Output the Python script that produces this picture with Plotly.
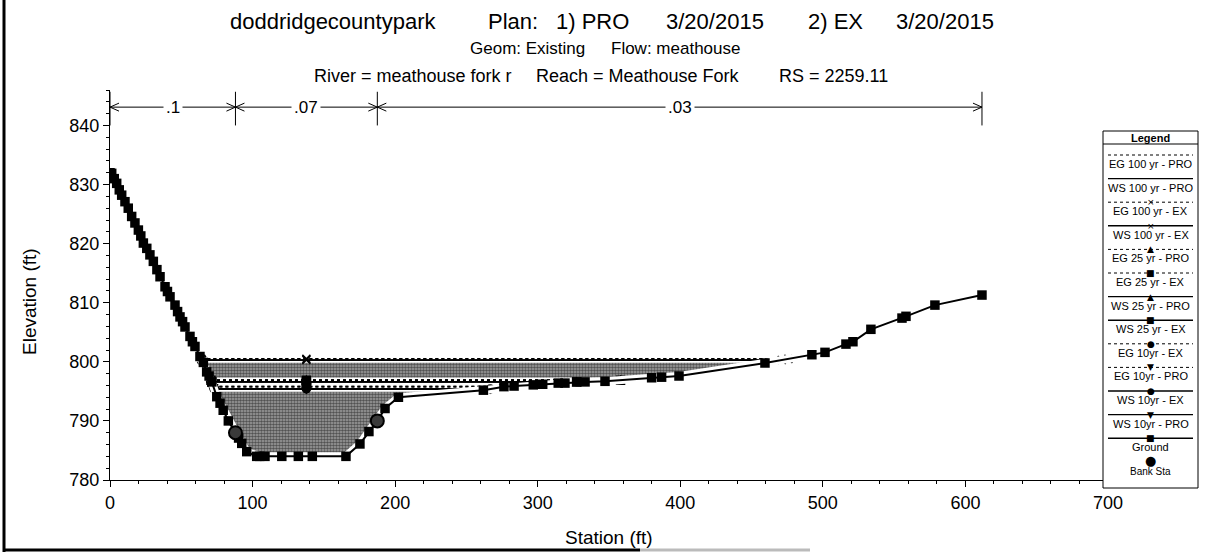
import numpy as np
import plotly.graph_objects as go

# ---- cross-section data -------------------------------------------------
ground_sta = [0.0, 1.2, 3.0, 4.7, 6.5, 8.2, 10.5, 12.8, 15.2, 17.5, 19.9, 21.6,
              23.4, 25.8, 28.0, 30.4, 32.9, 35.1, 38.6, 40.3, 42.1, 45.6, 47.4,
              49.1, 50.9, 52.6, 56.1, 57.8, 59.6, 63.1, 65.5, 67.8, 69.5, 71.4,
              74.9, 77.2, 79.4, 83.0, 88.0, 90.2, 92.4, 95.9, 102.9, 105.0,
              108.7, 120.5, 132.1, 141.9, 165.5, 175.3, 181.6, 187.5, 192.9,
              202.3, 261.9, 276.3, 283.4, 296.9, 303.5, 314.4, 319.1, 327.3,
              333.2, 347.2, 379.9, 386.9, 399.1, 459.4, 492.3, 501.5, 516.2,
              521.1, 533.7, 555.5, 558.3, 578.6, 611.6]
ground_elev = [832.0, 831.9, 831.0, 830.2, 829.1, 828.2, 827.1, 826.0, 824.6,
               823.5, 822.3, 821.3, 820.1, 819.2, 818.1, 817.0, 815.6, 814.4,
               812.7, 811.9, 811.0, 809.6, 808.5, 807.6, 806.8, 805.9, 804.3,
               803.4, 802.6, 800.9, 799.9, 798.3, 797.6, 796.6, 794.1, 793.0,
               791.8, 790.0, 788.0, 787.1, 786.2, 784.8, 784.0, 784.0, 784.0,
               784.0, 784.0, 784.0, 784.0, 786.1, 788.2, 790.0, 792.1, 794.0,
               795.2, 795.8, 795.9, 796.1, 796.2, 796.4, 796.4, 796.6, 796.6,
               796.7, 797.3, 797.4, 797.6, 799.8, 801.2, 801.6, 803.0, 803.4,
               805.5, 807.4, 807.7, 809.6, 811.3]

bank_sta = [88.0, 187.5]
bank_elev = [788.0, 790.0]

n_values = [".1", ".07", ".03"]

profiles = ["EG 100 yr - PRO", "WS 100 yr - PRO", "EG 100 yr - EX", "WS 100 yr - EX",
            "EG 25 yr - PRO", "EG 25 yr - EX", "WS 25 yr - PRO", "WS 25 yr - EX",
            "EG 10yr - EX", "EG 10yr - PRO", "WS 10yr - EX", "WS 10yr - PRO"]
profile_elev = [800.5, 800.3, 800.5, 800.3,
                796.9, 796.9, 796.6, 796.6,
                795.8, 795.8, 795.4, 795.4]
profile_dash = ["dot", "solid", "dot", "solid",
                "dot", "dot", "solid", "solid",
                "dot", "dot", "solid", "solid"]
profile_symbol = [None, None, "x-thin", "x-thin",
                  "triangle-up", "square", "triangle-up", "square",
                  "circle", "triangle-down", "circle", "triangle-down"]

# title pieces: (text, x pixel, anchor)
title_parts = [("doddridgecountypark", 228, "left"), ("Plan:", 486, "left"),
               ("1) PRO", 554, "left"), ("3/20/2015", 664, "left"),
               ("2) EX", 806, "left"), ("3/20/2015", 996, "right")]
subtitle_2 = [("Geom: Existing", 468, "left"), ("Flow: meathouse", 742, "right")]
subtitle_3 = [("River = meathouse fork r", 312, "left"),
              ("Reach = Meathouse Fork", 534, "left"),
              ("RS = 2259.11", 890, "right")]

# ---- geometry helpers ---------------------------------------------------
W, H = 1214, 554
L, R, T, B = 110, 1108, 90, 480          # plot area in pixels
X_RANGE = [0, 700]
Y_RANGE = [780, 846]
FONT = "Liberation Sans, Arial, sans-serif"


def px(x):
    return (x - L) / (R - L)


def py(y):
    return (B - y) / (B - T)


def note(x, y, text, size, family=FONT, xanchor="center", **kw):
    d = dict(x=px(x), y=py(y), xref="paper", yref="paper", text=text,
             showarrow=False, xanchor=xanchor, yanchor="middle",
             font=dict(size=size, color="black", family=family))
    d.update(kw)
    return d


gs = np.array(ground_sta)
ge = np.array(ground_elev)


def wet_limits(wse):
    below = ge < wse
    i = int(np.argmax(below))
    xl = gs[i - 1] + (wse - ge[i - 1]) * (gs[i] - gs[i - 1]) / (ge[i] - ge[i - 1])
    j = len(ge) - 1 - int(np.argmax(below[::-1]))
    xr = gs[j] + (wse - ge[j]) * (gs[j + 1] - gs[j]) / (ge[j + 1] - ge[j])
    return xl, xr, i, j


fig = go.Figure()

# water area under the highest water surface
ws_top = profile_elev[1]
xl, xr, i0, j0 = wet_limits(ws_top)
poly_x = [xl] + list(gs[i0:j0 + 1]) + [xr, xl]
poly_y = [ws_top] + list(ge[i0:j0 + 1]) + [ws_top, ws_top]
fig.add_trace(go.Scatter(
    x=poly_x, y=poly_y, mode="lines", fill="toself",
    fillcolor="#777777", line=dict(width=0, color="rgba(0,0,0,0)"),
    fillpattern=dict(shape=".", fgcolor="#000000", bgcolor="#a4a4a4",
                     size=3, solidity=0.6),
    hoverinfo="skip", showlegend=False))

mid_sta = (bank_sta[0] + bank_sta[1]) / 2

# white halos under the water surface lines
for el in profile_elev:
    a, b, _, _ = wet_limits(el)
    fig.add_trace(go.Scatter(x=[a, b], y=[el, el], mode="lines",
                             line=dict(color="white", width=5),
                             hoverinfo="skip", showlegend=False))

# water surface and energy grade lines
for name, el, dash, sym in zip(profiles, profile_elev, profile_dash, profile_symbol):
    a, b, _, _ = wet_limits(el)
    if sym is None:
        fig.add_trace(go.Scatter(x=[a, b], y=[el, el], mode="lines", name=name,
                                 line=dict(color="black", width=1.8, dash=dash),
                                 showlegend=False))
    else:
        fig.add_trace(go.Scatter(
            x=[a, mid_sta, b], y=[el, el, el], mode="lines+markers", name=name,
            line=dict(color="black", width=1.8, dash=dash),
            marker=dict(symbol=sym, size=8, color="black",
                        line=dict(color="black", width=1.5)),
            showlegend=False))

# ground
fig.add_trace(go.Scatter(x=ground_sta, y=ground_elev, mode="lines",
                         line=dict(color="white", width=8),
                         hoverinfo="skip", showlegend=False))
fig.add_trace(go.Scatter(x=ground_sta, y=ground_elev, mode="lines+markers",
                         name="Ground",
                         line=dict(color="black", width=2),
                         marker=dict(symbol="square", size=9.5, color="black"),
                         showlegend=False))
# bank stations
fig.add_trace(go.Scatter(x=bank_sta, y=bank_elev, mode="markers", name="Bank Sta",
                         marker=dict(symbol="circle", size=13, color="#3a3a3a",
                                     line=dict(color="black", width=2)),
                         showlegend=False))

shapes = []
annotations = []

# Manning's n brackets along the top
breaks = [ground_sta[0], bank_sta[0], bank_sta[1], ground_sta[-1]]
y_line = 843.1
ft_per_px_x = (X_RANGE[1] - X_RANGE[0]) / (R - L)
ft_per_px_y = (Y_RANGE[1] - Y_RANGE[0]) / (B - T)
ah_dx = 9 * ft_per_px_x
ah_dy = 4 * ft_per_px_y
for bx in breaks:
    shapes.append(dict(type="line", xref="x", yref="y", x0=bx, x1=bx,
                       y0=840.0, y1=845.7, line=dict(color="black", width=1)))
for k in range(3):
    a, b = breaks[k], breaks[k + 1]
    shapes.append(dict(type="line", xref="x", yref="y", x0=a, x1=b,
                       y0=y_line, y1=y_line, line=dict(color="black", width=1)))
    shapes.append(dict(type="path", xref="x", yref="y",
                       path=f"M{a + ah_dx},{y_line + ah_dy} L{a},{y_line} L{a + ah_dx},{y_line - ah_dy}",
                       line=dict(color="black", width=1)))
    shapes.append(dict(type="path", xref="x", yref="y",
                       path=f"M{b - ah_dx},{y_line + ah_dy} L{b},{y_line} L{b - ah_dx},{y_line - ah_dy}",
                       line=dict(color="black", width=1)))
    annotations.append(dict(x=(a + b) / 2, y=y_line, xref="x", yref="y",
                            text=n_values[k], showarrow=False, bgcolor="white",
                            xanchor="center", yanchor="middle",
                            font=dict(size=17, color="black", family=FONT),
                            borderpad=2))

# titles
for txt, xp, anc in title_parts:
    annotations.append(note(xp, 22, txt, 22, xanchor=anc))
for txt, xp, anc in subtitle_2:
    annotations.append(note(xp, 49, txt, 17, xanchor=anc))
for txt, xp, anc in subtitle_3:
    annotations.append(note(xp, 76, txt, 18, xanchor=anc))
annotations.append(note(609, 537, "Station (ft)", 19))
annotations.append(note(29, 302, "Elevation (ft)", 19, textangle=-90))

# outer frame fragments
shapes.append(dict(type="line", xref="paper", yref="paper", x0=px(4), x1=px(4),
                   y0=py(0), y1=py(552), line=dict(color="black", width=3)))
shapes.append(dict(type="line", xref="paper", yref="paper", x0=px(3), x1=px(640),
                   y0=py(550), y1=py(550), line=dict(color="black", width=3)))
shapes.append(dict(type="line", xref="paper", yref="paper", x0=px(640), x1=px(810),
                   y0=py(550), y1=py(550), line=dict(color="#bbbbbb", width=3)))

# legend panel
LX0, LX1, LY0, LY1 = 1103, 1198, 131, 488
shapes.append(dict(type="rect", xref="paper", yref="paper", x0=px(LX0), x1=px(LX1),
                   y0=py(LY0), y1=py(LY1), line=dict(color="black", width=1),
                   fillcolor="white"))
shapes.append(dict(type="line", xref="paper", yref="paper", x0=px(LX0), x1=px(LX1),
                   y0=py(144), y1=py(144), line=dict(color="black", width=1)))
cx = (LX0 + LX1) / 2
annotations.append(note(cx, 137.5, "<b>Legend</b>", 11))

glyph = {"x-thin": "\u00d7", "triangle-up": "\u25b2", "square": "\u25a0",
         "circle": "\u25cf", "triangle-down": "\u25bc"}
entry_h = 23.6
first_line = 155.0
legend_names = profiles + ["Ground"]
legend_dash = profile_dash + ["solid"]
legend_sym = profile_symbol + ["square"]
for k, (nm, dsh, sym) in enumerate(zip(legend_names, legend_dash, legend_sym)):
    yl = first_line + k * entry_h
    shapes.append(dict(type="line", xref="paper", yref="paper",
                       x0=px(LX0 + 5), x1=px(LX1 - 5), y0=py(yl), y1=py(yl),
                       line=dict(color="black", width=1.4 if dsh == "solid" else 1,
                                 dash="solid" if dsh == "solid" else "dot")))
    if sym is not None:
        annotations.append(note(cx, yl, glyph[sym], 9, family="DejaVu Sans"))
    annotations.append(note(cx, yl + 9, nm, 11))
yl = first_line + len(legend_names) * entry_h
annotations.append(note(cx, yl - 1, "\u25cf", 13, family="DejaVu Sans"))
annotations.append(note(cx, yl + 10, "Bank Sta", 10))

axis_common = dict(showgrid=False, zeroline=False, showline=True, linecolor="black",
                   linewidth=1, ticks="outside", ticklen=6, tickcolor="black",
                   tickwidth=1,
                   tickfont=dict(size=18, color="black", family=FONT))
fig.update_layout(
    width=W, height=H,
    margin=dict(l=L, r=W - R, t=T, b=H - B, pad=0),
    paper_bgcolor="white", plot_bgcolor="white",
    showlegend=False,
    xaxis=dict(range=X_RANGE, dtick=100, tick0=0,
               minor=dict(dtick=20, ticks="outside", ticklen=3, tickcolor="black"),
               **axis_common),
    yaxis=dict(range=Y_RANGE, tickvals=[780, 790, 800, 810, 820, 830, 840],
               minor=dict(dtick=2, tick0=780, ticks="outside", ticklen=3,
                          tickcolor="black"),
               **axis_common),
    shapes=shapes,
    annotations=annotations,
)

fig.write_html("out.html")
